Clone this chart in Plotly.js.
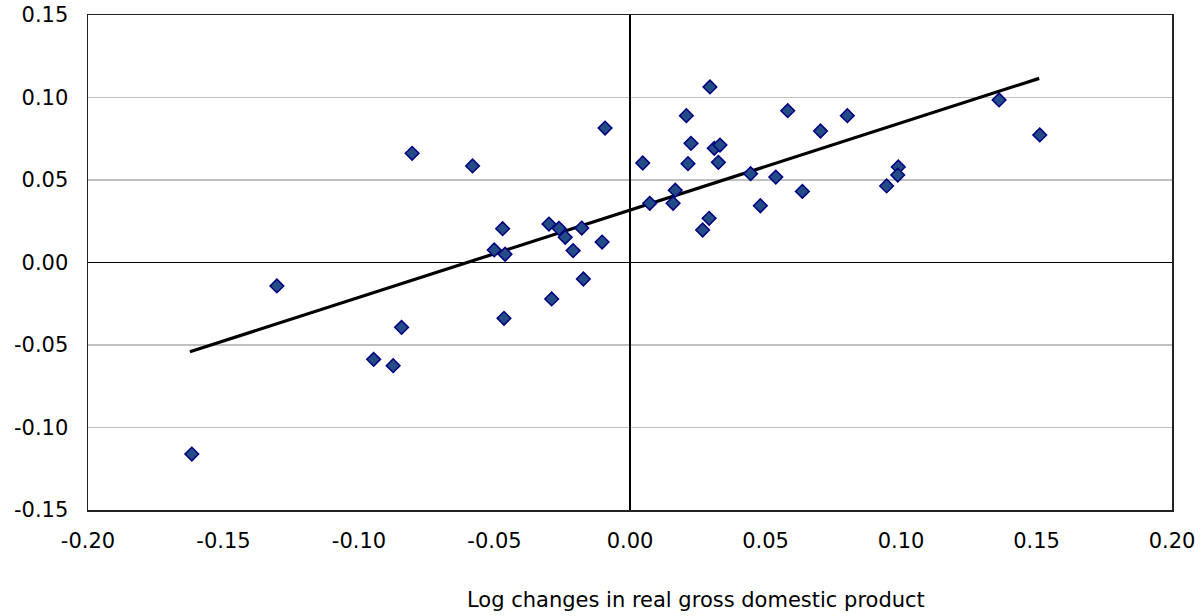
<!DOCTYPE html>
<html>
<head>
<meta charset="utf-8">
<script src="https://cdn.plot.ly/plotly-3.0.1.min.js"></script>
<style>html,body{margin:0;padding:0;background:#fff;}#chart{width:1204px;height:616px;}</style>
</head>
<body>
<div id="chart"></div>
<script>
// Log changes in real GDP (x) vs. the plotted dependent variable (y)
const gdpChange = [
  -0.1617, -0.1303, -0.0946, -0.0874, -0.0843, -0.0804, -0.0581,
  -0.0470, -0.0501, -0.0461, -0.0299, -0.0262, -0.0239, -0.0178,
  -0.0210, -0.0103, -0.0172, -0.0289, -0.0465, -0.0092,
  0.0047, 0.0073, 0.0167, 0.0159, 0.0208, 0.0225, 0.0214, 0.0295,
  0.0311, 0.0332, 0.0326, 0.0292, 0.0268, 0.0445, 0.0481, 0.0538,
  0.0582, 0.0636, 0.0703, 0.0802, 0.0947, 0.0990, 0.0988, 0.1362, 0.1512
];
const yChange = [
  -0.1161, -0.0142, -0.0587, -0.0625, -0.0393, 0.0662, 0.0585,
  0.0205, 0.0076, 0.0050, 0.0233, 0.0207, 0.0153, 0.0209,
  0.0072, 0.0124, -0.0100, -0.0221, -0.0338, 0.0815,
  0.0603, 0.0359, 0.0438, 0.0359, 0.0890, 0.0722, 0.0599, 0.1064,
  0.0692, 0.0712, 0.0607, 0.0268, 0.0197, 0.0538, 0.0344, 0.0518,
  0.0920, 0.0431, 0.0797, 0.0890, 0.0464, 0.0579, 0.0530, 0.0985, 0.0773
];
// Fitted linear trend (start and end of the line)
const trendX = [-0.1624, 0.1510];
const trendY = [-0.0541, 0.1116];

const xTickVals = [-0.20, -0.15, -0.10, -0.05, 0.00, 0.05, 0.10, 0.15, 0.20];
const xTickText = ["-0.20", "-0.15", "-0.10", "-0.05", "0.00", "0.05", "0.10", "0.15", "0.20"];
const yTickVals = [-0.15, -0.10, -0.05, 0.00, 0.05, 0.10, 0.15];
const yTickText = ["-0.15", "-0.10", "-0.05", "0.00", "0.05", "0.10", "0.15"];
const xTitle = "Log changes in real gross domestic product";

const font = "DejaVu Sans, Verdana, sans-serif";
const fs = 21;

const traces = [
  {
    x: trendX, y: trendY, type: "scatter", mode: "lines",
    line: {color: "#000000", width: 3.2}, hoverinfo: "skip", showlegend: false
  },
  {
    x: gdpChange, y: yChange, type: "scatter", mode: "markers",
    marker: {symbol: "diamond", size: 10.5, color: "#234C86",
             line: {color: "#000080", width: 1.5}},
    showlegend: false
  }
];

const layout = {
  width: 1204, height: 616,
  margin: {l: 88, r: 32, t: 15, b: 106, pad: 0},
  paper_bgcolor: "#ffffff", plot_bgcolor: "#ffffff",
  font: {family: font, size: fs, color: "#000000"},
  showlegend: false,
  xaxis: {
    range: [-0.20, 0.20], tickmode: "array", tickvals: xTickVals, ticktext: xTickText,
    showgrid: false, zeroline: true, zerolinecolor: "#000000", zerolinewidth: 1.5,
    showline: true, mirror: true, linecolor: "#222222", linewidth: 1.5,
    ticks: "outside", ticklen: 11, tickcolor: "rgba(0,0,0,0)",
    tickfont: {family: font, size: fs, color: "#000000"}, fixedrange: true
  },
  yaxis: {
    range: [-0.15, 0.15], tickmode: "array", tickvals: yTickVals, ticktext: yTickText,
    showgrid: true, gridcolor: "#C0C0C0", gridwidth: 1.5,
    zeroline: true, zerolinecolor: "#000000", zerolinewidth: 1.5,
    showline: true, mirror: true, linecolor: "#222222", linewidth: 1.5,
    ticks: "outside", ticklen: 14, tickcolor: "rgba(0,0,0,0)",
    tickfont: {family: font, size: fs, color: "#000000"}, fixedrange: true
  },
  annotations: [{
    text: xTitle, xref: "paper", yref: "paper",
    x: (696 - 88) / (1172 - 88), y: 0, yshift: -90, xanchor: "center", yanchor: "middle",
    showarrow: false, font: {family: font, size: fs, color: "#000000"}
  }]
};

Plotly.newPlot("chart", traces, layout, {displayModeBar: false, staticPlot: true});
</script>
</body>
</html>
